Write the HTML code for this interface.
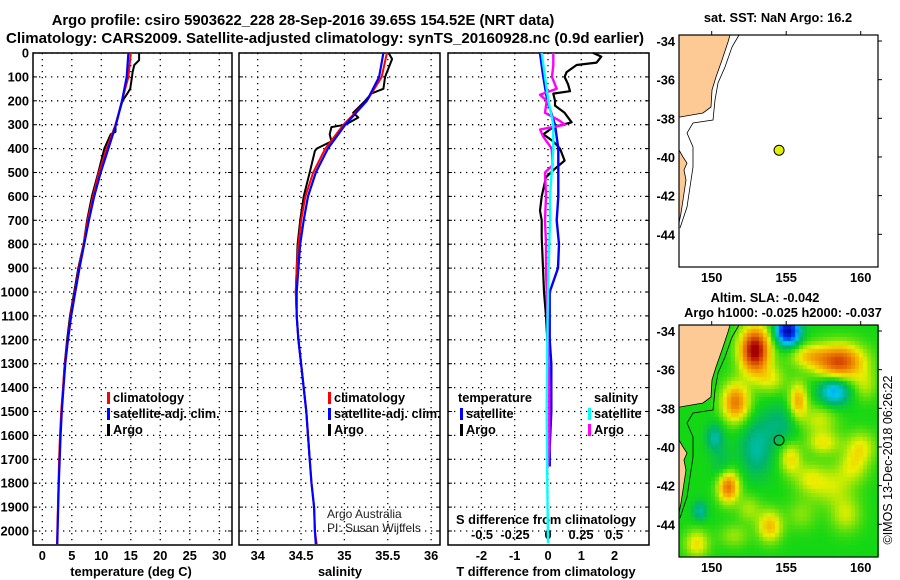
<!DOCTYPE html>
<html><head><meta charset="utf-8">
<style>
html,body{margin:0;padding:0;background:#fff;width:900px;height:580px;overflow:hidden}
#wrap{position:relative;width:900px;height:580px}
canvas{position:absolute;left:0;top:0}
svg{position:absolute;left:0;top:0}
text{font-family:"Liberation Sans",Arial,sans-serif}
.b{font-weight:bold;font-size:12.8px}
.t{font-weight:bold;font-size:14.8px}
</style></head><body>
<div id="wrap">
<canvas id="heat" width="900" height="580"></canvas>
<svg id="svg" width="900" height="580" xmlns="http://www.w3.org/2000/svg">
<text x="303" y="25" text-anchor="middle" class="t">Argo profile: csiro 5903622_228 28-Sep-2016 39.65S 154.52E (NRT data)</text>
<text x="325" y="43" text-anchor="middle" class="t" textLength="638" lengthAdjust="spacingAndGlyphs">Climatology: CARS2009. Satellite-adjusted climatology: synTS_20160928.nc (0.9d earlier)</text>
<text x="131" y="576" text-anchor="middle" class="b">temperature (deg C)</text>
<text x="340" y="576" text-anchor="middle" class="b">salinity</text>
<text x="546" y="576" text-anchor="middle" class="b">T difference from climatology</text>
<text x="546" y="524" text-anchor="middle" class="b">S difference from climatology</text>
<text x="778" y="22" text-anchor="middle" class="b">sat. SST: NaN Argo: 16.2</text>
<text x="765" y="302" text-anchor="middle" class="b">Altim. SLA: -0.042</text>
<text x="783" y="317" text-anchor="middle" class="b">Argo h1000: -0.025 h2000: -0.037</text>
<text transform="translate(892,460) rotate(-90)" text-anchor="middle" font-size="12.5">©IMOS 13-Dec-2018 06:26:22</text>
<text x="327" y="518" font-size="12" fill="#222">Argo Australia</text>
<text x="327" y="532" font-size="12" fill="#222">PI: Susan Wijffels</text>
</svg>
</div>
<script>
// ---------- Data ----------
const tDepth = [0,30,50,80,100,150,170,200,250,300,330,340,400,500,600,700,800,900,1000,1100,1200,1300,1400,1500,1600,1700];
const tArgo  = [16.4,16.4,15.6,15.3,15.2,14.9,14.4,13.6,13.0,12.4,12.4,11.6,10.5,9.5,8.4,7.6,7.0,6.1,5.4,4.7,4.2,3.8,3.55,3.25,3.05,2.9];
const climDepth = [0,100,200,300,400,500,600,700,800,900,1000,1100,1200,1300,1400,1500,1600,1700,1800,1900,2000,2055];
const tClim = [15.0,14.6,13.5,12.4,10.9,9.6,8.6,7.7,7.0,6.2,5.5,4.8,4.3,3.8,3.5,3.2,3.0,2.85,2.75,2.65,2.55,2.5];
const tSat  = [14.6,14.3,13.5,12.5,11.2,9.9,8.8,7.9,7.1,6.3,5.6,4.9,4.35,3.9,3.6,3.3,3.1,2.95,2.8,2.7,2.6,2.55];
const sDepth = [0,25,100,150,170,200,250,270,300,310,340,370,400,410,500,600,700,800,900,1000,1100,1200,1300,1400,1500,1600,1700];
const sArgo  = [35.51,35.55,35.47,35.45,35.31,35.24,35.10,35.16,35.01,34.85,34.83,34.85,34.68,34.66,34.60,34.53,34.49,34.46,34.45,34.44,34.45,34.47,34.50,34.53,34.56,34.58,34.60];
const sClim = [35.49,35.43,35.26,34.99,34.78,34.64,34.55,34.50,34.47,34.45,34.44,34.45,34.47,34.50,34.53,34.56,34.58,34.60,34.62,34.65,34.66,34.68];
const sSat  = [35.45,35.40,35.26,35.01,34.81,34.67,34.58,34.53,34.49,34.47,34.45,34.45,34.47,34.50,34.53,34.56,34.58,34.60,34.62,34.65,34.66,34.67];
const dDepthArgoT = [0,15,40,50,80,100,130,160,170,200,220,250,290,310,340,370,400,450,490,520,600,660,700,770,900,1000,1100,1200,1250];
const dTArgo = [1.36,1.6,1.46,0.86,0.56,0.5,0.6,0.66,0.16,0.21,0.21,0.5,0.71,0.16,-0.14,0.16,0.36,0.5,0.16,-0.06,-0.19,-0.24,-0.19,-0.19,-0.15,-0.12,-0.06,-0.02,0];
const dDepthSatT = [0,100,200,300,400,500,600,700,800,900,1000,1100,1200,1300,1500,1650,1730];
const dTSat = [-0.24,-0.14,-0.02,0.21,0.31,0.31,0.31,0.26,0.33,0.3,0.05,0.05,0.05,0.1,0.1,0.05,0.05];
const dDepthArgoS = [0,50,100,150,175,200,250,280,300,320,350,400,470,500,600,700,800,900,1000,1200,1400,1650,1730];
const dSArgo = [0.04,0.04,0.03,0.066,-0.06,-0.01,-0.023,0.078,0.13,-0.06,-0.036,0.028,0.035,-0.023,-0.015,-0.023,-0.015,-0.015,-0.01,0.0,0.01,0.01,0.0];
const dDepthSatS = [0,100,200,300,400,500,600,700,800,1000,1200,1500,1800,2050];
const dSSat = [-0.048,-0.023,0.003,0.04,0.04,0.028,0.015,0.015,0.01,0.0,-0.005,-0.01,-0.005,0.0];
const floatLon = [154.52], floatLat = [-39.65];
const blobLon = [152.9,155.1,158.6,158.2,151.6,155.8,151.1,150.2,155.3,153.9,149.0,149.2,158.0,160.0,159.0,156.5,154.6,153.0,157.5,152.5,160.3,154.0,157.2,156.5,159.5,151.5,153.0,150.7,156.0];
const blobLat = [-35.0,-34.0,-35.6,-37.1,-37.7,-37.6,-42.05,-39.5,-40.6,-44.1,-45.0,-43.3,-42.0,-40.0,-43.5,-35.3,-38.8,-40.5,-39.8,-43.2,-36.8,-36.5,-38.6,-41.6,-41.0,-44.6,-39.5,-41.0,-43.5];
const blobVal = [1.05,-1.05,0.8,-0.55,0.65,0.5,0.7,-0.3,0.35,0.45,0.35,-0.3,0.25,0.3,0.25,0.35,-0.2,-0.2,0.3,0.2,0.2,0.25,0.25,0.22,0.25,0.18,-0.15,-0.15,0.15];
const blobRx  = [1.0,0.8,1.6,1.0,0.9,0.6,0.7,0.6,0.7,0.8,0.8,0.5,1.5,1.0,1.0,1.2,1.2,1.0,1.1,0.8,0.8,1.0,1.2,1.0,1.0,1.0,1.2,0.7,1.0];
const blobRy  = [1.2,0.7,0.9,0.7,1.0,0.9,0.8,0.7,0.8,0.8,0.7,0.5,1.0,0.8,0.9,0.6,1.0,1.2,0.6,0.7,0.8,0.7,0.8,0.8,0.8,0.6,1.2,1.0,0.8];
const tTicks=[0,5,10,15,20,25,30], sTicks=[34,34.5,35,35.5,36], tdTicks=[-2,-1,0,1,2], sdTicks=[-0.5,-0.25,0,0.25,0.5];
const depthTicks=[0,100,200,300,400,500,600,700,800,900,1000,1100,1200,1300,1400,1500,1600,1700,1800,1900,2000];
const lonTicks=[150,155,160], latTicks=[-34,-36,-38,-40,-42,-44];

// ---------- Scales ----------
const yD=d=>53+d*0.239;
const xT=t=>42.3+t*5.9;
const xS=s=>257.7+(s-34)*86.7;
const xTd=v=>548+v*33.3;
const xSd=v=>548+v*132;
const mX=lon=>711.7+(lon-150)*14.9;
const mY=(lat,top)=>top+6+(-34-lat)*19.33;
const BOT=545, TOP=53;
const P1=[33,232],P2=[239,440],P3=[448,649];
const MAPX=[679,878], MAP1=[35,267], MAP2=[325,557];

const NS='http://www.w3.org/2000/svg';
const svg=document.getElementById('svg');
function mk(tag,attrs,parent){const e=document.createElementNS(NS,tag);for(const k in attrs)e.setAttribute(k,attrs[k]);(parent||svg).appendChild(e);return e;}
function txt(x,y,s,anchor,cls,parent){const e=mk('text',{x:x,y:y,'text-anchor':anchor||'middle',class:cls||'b'},parent);e.textContent=s;return e;}

// ---------- Heatmap ----------
(function(){
const c=document.getElementById('heat').getContext('2d');
const stops=[[-1.1,[0,0,150]],[-0.75,[0,60,255]],[-0.45,[0,200,240]],[-0.2,[0,180,110]],[0,[20,215,20]],[0.3,[235,240,0]],[0.5,[245,170,0]],[0.75,[225,90,0]],[1.0,[165,0,0]]];
function col(v){if(v<=stops[0][0])return stops[0][1];for(let i=1;i<stops.length;i++){if(v<=stops[i][0]){const a=stops[i-1],b=stops[i];const f=(v-a[0])/(b[0]-a[0]);return a[1].map((q,j)=>Math.round(q+f*(b[1][j]-q)));}}return stops[stops.length-1][1];}
const cs=4;
for(let px=MAPX[0];px<MAPX[1];px+=cs){for(let py=MAP2[0];py<MAP2[1];py+=cs){
 const lon=150+(px+cs/2-711.7)/14.9, lat=-34-((py+cs/2)-(MAP2[0]+6))/19.33;
 let v=0;for(let i=0;i<blobLon.length;i++){const dx=(lon-blobLon[i])/blobRx[i],dy=(lat-blobLat[i])/blobRy[i];v+=blobVal[i]*Math.exp(-(dx*dx+dy*dy));}
 const k=col(v);c.fillStyle='rgb('+k.join(',')+')';c.fillRect(px,py,cs,cs);}}
})();

// ---------- Profile panels ----------
function panel(name,xr,vTicks,xf,labels){
 const g=mk('g',{});
 
 
 depthTicks.forEach(d=>{const l=mk('line',{x1:xr[0],x2:xr[1],y1:yD(d),y2:yD(d),stroke:'#000','stroke-width':1.3,'stroke-dasharray':'1.3 4.7'},g);
  mk('line',{x1:xr[0],x2:xr[0]+4,y1:yD(d),y2:yD(d),stroke:'#000'},g);mk('line',{x1:xr[1]-4,x2:xr[1],y1:yD(d),y2:yD(d),stroke:'#000'},g);});
 vTicks.forEach((t,i)=>{const x=xf(t);const l=mk('line',{x1:x,x2:x,y1:TOP,y2:BOT,stroke:'#000','stroke-width':1.3,'stroke-dasharray':'1.3 4.7'},g);
  if(labels){const e=txt(x,560,labels[i],'middle','b',g);}});
 const r=mk('rect',{x:xr[0],y:TOP,width:xr[1]-xr[0],height:BOT-TOP,fill:'none',stroke:'#000','stroke-width':1.5},g);
 
 return g;
}
function line(g,depths,vals,xf,color,w,name){
 const pts=depths.map((d,i)=>xf(vals[i]).toFixed(1)+','+yD(d).toFixed(1)).join(' ');
 const p=mk('polyline',{points:pts,fill:'none',stroke:color,'stroke-width':w,'stroke-linejoin':'round'},g);
 
}
const g1=panel('temperature-panel',P1,tTicks,xT,tTicks.map(String));
depthTicks.forEach(d=>{const e=txt(29,yD(d)+4.5,String(d),'end');});
line(g1,tDepth,tArgo,xT,'#000',2,'temperature-argo-line');
line(g1,climDepth,tClim,xT,'#f00',2,'temperature-climatology-line');
line(g1,climDepth,tSat,xT,'#00f',2.2,'temperature-satellite-line');

const g2=panel('salinity-panel',P2,sTicks,xS,sTicks.map(String));
line(g2,sDepth,sArgo,xS,'#000',2,'salinity-argo-line');
line(g2,climDepth,sClim,xS,'#f00',2,'salinity-climatology-line');
line(g2,climDepth,sSat,xS,'#00f',2.2,'salinity-satellite-line');

const g3=panel('difference-panel',P3,tdTicks,xTd,tdTicks.map(String));
sdTicks.forEach(v=>{const e=txt(xSd(v),539,String(v),'middle','b',g3);});
line(g3,dDepthArgoT,dTArgo,xTd,'#000',2.2,'t-diff-argo-line');
line(g3,dDepthSatT,dTSat,xTd,'#00f',2.4,'t-diff-satellite-line');
line(g3,dDepthArgoS,dSArgo,xSd,'#f0f',2.4,'s-diff-argo-line');
line(g3,dDepthSatS,dSSat,xSd,'#0ff',2.4,'s-diff-satellite-line');

// ---------- Legends ----------
function legend(x,y,color,label,name){
 const g=mk('g',{});
 
 
 mk('rect',{x:x,y:y-10,width:3,height:12,fill:color},g);
 txt(x+6,y,label,'start','b',g);
}
legend(107,402,'#f00','climatology','legend-climatology');
legend(107,418,'#00f','satellite-adj. clim.','legend-satellite');
legend(107,434,'#000','Argo','legend-argo');
legend(328,402,'#f00','climatology','legend-climatology-s');
legend(328,418,'#00f','satellite-adj. clim.','legend-satellite-s');
legend(328,434,'#000','Argo','legend-argo-s');
txt(458,402,'temperature','start');
legend(460,418,'#00f','satellite','legend-t-satellite');
legend(460,434,'#000','Argo','legend-t-argo');
txt(594,402,'salinity','start');
legend(588,418,'#0ff','satellite','legend-s-satellite');
legend(588,434,'#f0f','Argo','legend-s-argo');

// ---------- Maps ----------
const land='M679,35 L730,35 L728,42 L722,60 L716,77 L712,90 L711,107 L703,113 L680,117 L679,117 Z M679,150 L683,157 L687,163 L684,170 L686,180 L683,200 L681,213 L679,223 Z';
const iso='M739,35 L732,47 L725,67 L718,83 L715,100 L713,120 L693,123 L687,133 L693,147 L693,167 L690,187 L687,207 L680,228';
function map(name,top,bg){
 const g=mk('g',{});
 
 
 if(bg)mk('rect',{x:MAPX[0],y:top,width:MAPX[1]-MAPX[0],height:232,fill:bg},g);
 const off=top-35;
 const L=mk('path',{d:land,fill:'#fdca96',stroke:'#000','stroke-width':0.8,transform:'translate(0,'+off+')'},g);
 
 const I=mk('path',{d:iso,fill:'none',stroke:'#000','stroke-width':0.8,transform:'translate(0,'+off+')'},g);
 
 const f=mk('rect',{x:MAPX[0],y:top,width:MAPX[1]-MAPX[0],height:232,fill:'none',stroke:'#000','stroke-width':1.2},g);
 
 lonTicks.forEach(l=>{const x=mX(l);mk('line',{x1:x,x2:x,y1:top,y2:top-4,stroke:'#000'},g);
  const e=txt(x,top+247,String(l),'middle','b',g);});
 latTicks.forEach(l=>{const y=mY(l,top);mk('line',{x1:MAPX[1],x2:MAPX[1]+4,y1:y,y2:y,stroke:'#000'},g);
  const e=txt(675,y+5,String(l),'end','b',g);});
 return g;
}
const m1=map('sst-map',MAP1[0],'#fff');
const d1=mk('circle',{cx:mX(floatLon[0]),cy:mY(floatLat[0],MAP1[0]),r:5,fill:'#e0f000',stroke:'#000','stroke-width':1},m1);

const m2=map('sla-map',MAP2[0],null);
const d2=mk('circle',{cx:mX(floatLon[0]),cy:mY(floatLat[0],MAP2[0]),r:5,fill:'none',stroke:'#000','stroke-width':1},m2);

</script>
</body></html>
